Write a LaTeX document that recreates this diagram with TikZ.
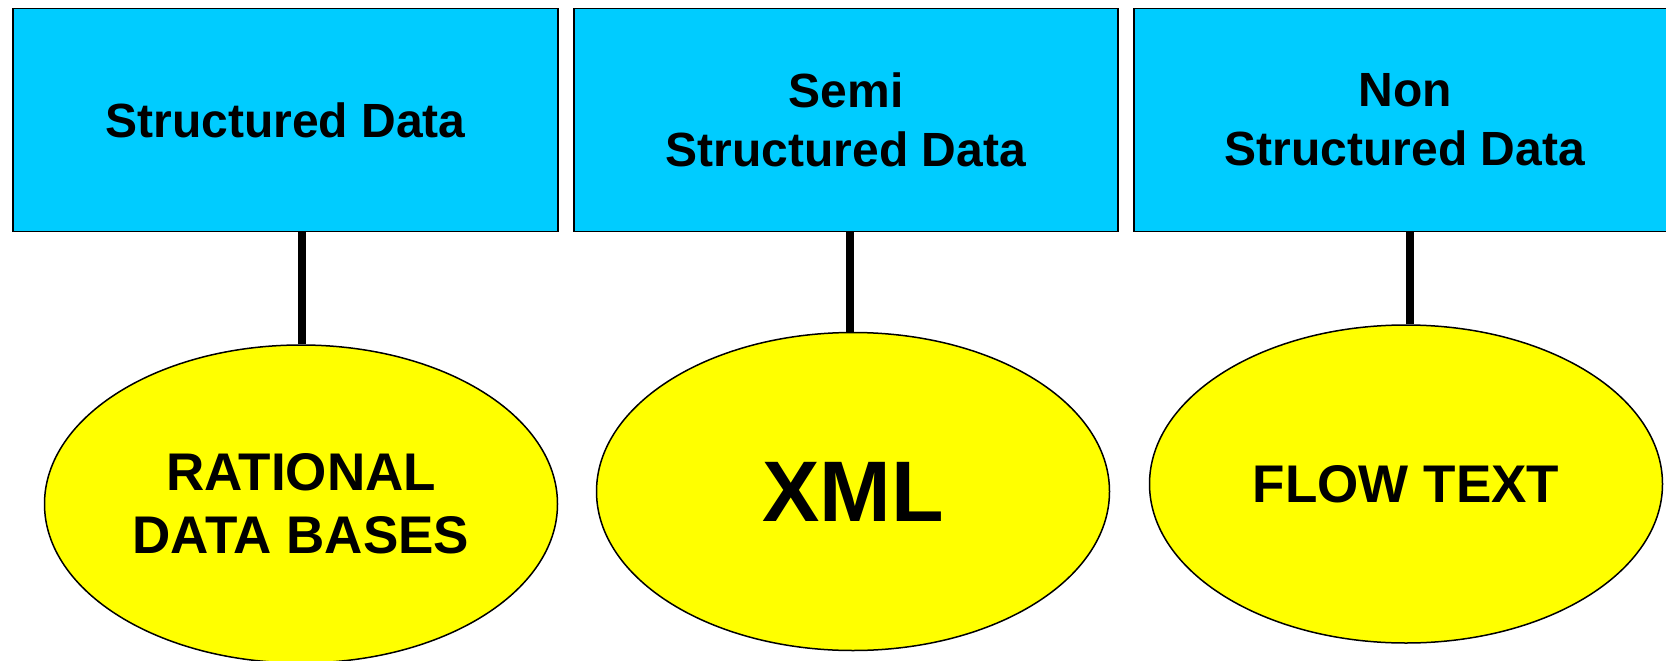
\documentclass[tikz,border=0pt]{standalone}
\usepackage{fontspec}
\setmainfont{Liberation Sans}
\usetikzlibrary{shapes.geometric}
\definecolor{boxcyan}{HTML}{00CCFF}
\definecolor{ellyellow}{HTML}{FFFF00}
\tikzset{
  catbox/.style={draw=black, line width=1.5pt, fill=boxcyan, rectangle, minimum height=223pt, inner sep=0pt, align=center, font=\fontsize{48}{59}\selectfont\bfseries},
  kindell/.style={draw=black, line width=1.5pt, fill=ellyellow, ellipse, minimum width=513pt, minimum height=318pt, inner sep=0pt, align=center, font=\fontsize{53}{63}\selectfont\bfseries},
  link/.style={line width=7.5pt, black}
}
\begin{document}
\begin{tikzpicture}[x=1pt,y=-1pt]
\useasboundingbox (0,0) rectangle (1666,661);
\clip (0,0) rectangle (1666,661);
\node[catbox, minimum width=545pt] (b1) at (285.4,120) {Structured Data};
\node[catbox, minimum width=544pt] (b2) at (846,120) {Semi\\Structured Data};
\node[catbox, minimum width=542pt] (b3) at (1405,120) {Non\\Structured Data};
\node[kindell] (e1) at (301,504) {RATIONAL\\DATA BASES};
\node[kindell] (e2) at (853,491.5) {\fontsize{86}{100}\selectfont XML};
\node[kindell] (e3) at (1406,484) {FLOW TEXT};
\coordinate (t1) at ([xshift=1pt]e1.north);
\coordinate (t2) at ([xshift=-3pt]e2.north);
\coordinate (t3) at ([xshift=4pt]e3.north);
\draw[link] (t1) -- (t1 |- b1.south);
\draw[link] (t2) -- (t2 |- b2.south);
\draw[link] (t3) -- (t3 |- b3.south);
\end{tikzpicture}
\end{document}
